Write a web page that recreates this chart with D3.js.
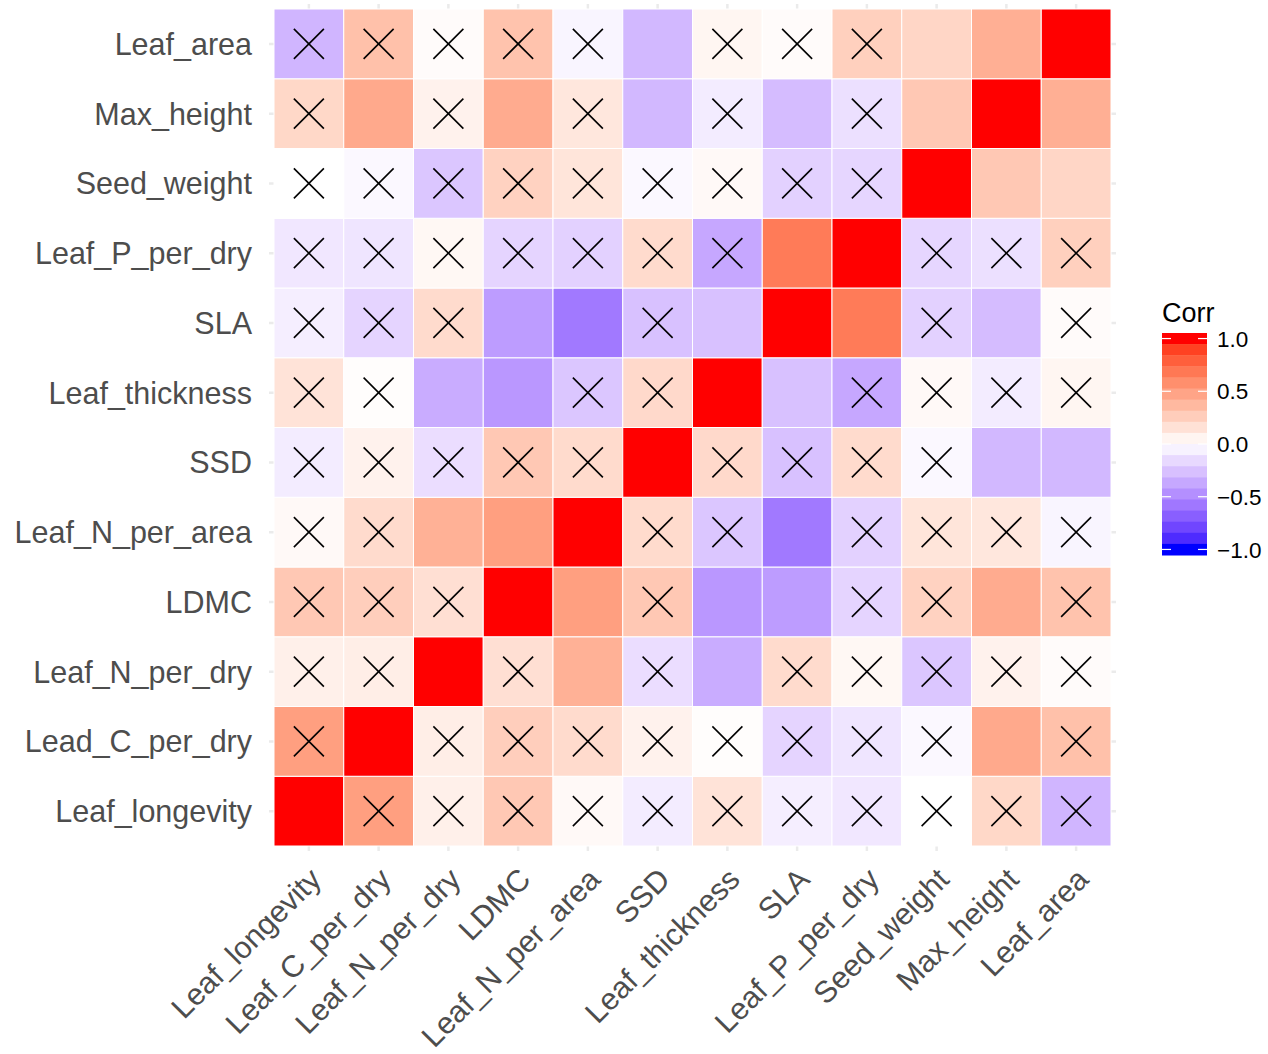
<!DOCTYPE html>
<html>
<head>
<meta charset="utf-8">
<script src="https://cdn.jsdelivr.net/npm/d3@7"></script>
<style>
  html, body { margin: 0; padding: 0; background: #fff; }
  svg { display: block; font-family: "Liberation Sans", Arial, Helvetica, sans-serif; }
</style>
</head>
<body>
<svg id="chart" width="1268" height="1054"></svg>
<script>
// variables in plotting order (x left->right, y bottom->top)
const colLabels = ['Leaf_longevity', 'Leaf_C_per_dry', 'Leaf_N_per_dry', 'LDMC', 'Leaf_N_per_area', 'SSD',
  'Leaf_thickness', 'SLA', 'Leaf_P_per_dry', 'Seed_weight', 'Max_height', 'Leaf_area'];
const rowLabels = ['Leaf_longevity', 'Lead_C_per_dry', 'Leaf_N_per_dry', 'LDMC', 'Leaf_N_per_area', 'SSD',
  'Leaf_thickness', 'SLA', 'Leaf_P_per_dry', 'Seed_weight', 'Max_height', 'Leaf_area'];

// correlation matrix, one row per variable (same order as colLabels)
const corrRows = [
  [1, 0.50, 0.08, 0.29, 0.03, -0.08, 0.15, -0.07, -0.10, 0.00, 0.21, -0.31],
  [0.50, 1, 0.09, 0.26, 0.19, 0.07, 0.01, -0.18, -0.11, -0.03, 0.45, 0.33],
  [0.08, 0.09, 1, 0.17, 0.41, -0.14, -0.35, 0.19, 0.04, -0.24, 0.07, 0.02],
  [0.29, 0.26, 0.17, 1, 0.50, 0.29, -0.44, -0.42, -0.18, 0.24, 0.44, 0.32],
  [0.03, 0.19, 0.41, 0.50, 1, 0.19, -0.24, -0.57, -0.19, 0.14, 0.13, -0.04],
  [-0.08, 0.07, -0.14, 0.29, 0.19, 1, 0.20, -0.26, 0.19, -0.03, -0.30, -0.30],
  [0.15, 0.01, -0.35, -0.44, -0.24, 0.20, 1, -0.26, -0.37, 0.03, -0.08, 0.05],
  [-0.07, -0.18, 0.19, -0.42, -0.57, -0.26, -0.26, 1, 0.67, -0.19, -0.28, 0.02],
  [-0.10, -0.11, 0.04, -0.18, -0.19, 0.19, -0.37, 0.67, 1, -0.17, -0.13, 0.25],
  [0.00, -0.03, -0.24, 0.24, 0.14, -0.03, 0.03, -0.19, -0.17, 1, 0.29, 0.22],
  [0.21, 0.45, 0.07, 0.44, 0.13, -0.30, -0.08, -0.28, -0.13, 0.29, 1, 0.42],
  [-0.31, 0.33, 0.02, 0.32, -0.04, -0.30, 0.05, 0.02, 0.25, 0.22, 0.42, 1]
];

// 1 = not significant (crossed out)
const insigRows = [
  [0, 1, 1, 1, 1, 1, 1, 1, 1, 1, 1, 1],
  [1, 0, 1, 1, 1, 1, 1, 1, 1, 1, 0, 1],
  [1, 1, 0, 1, 0, 1, 0, 1, 1, 1, 1, 1],
  [1, 1, 1, 0, 0, 1, 0, 0, 1, 1, 0, 1],
  [1, 1, 0, 0, 0, 1, 1, 0, 1, 1, 1, 1],
  [1, 1, 1, 1, 1, 0, 1, 1, 1, 1, 0, 0],
  [1, 1, 0, 0, 1, 1, 0, 0, 1, 1, 1, 1],
  [1, 1, 1, 0, 0, 1, 0, 0, 0, 1, 0, 1],
  [1, 1, 1, 1, 1, 1, 1, 0, 0, 1, 1, 1],
  [1, 1, 1, 1, 1, 1, 1, 1, 1, 0, 0, 0],
  [1, 0, 1, 0, 1, 0, 1, 0, 1, 0, 0, 0],
  [1, 1, 1, 1, 1, 0, 1, 1, 1, 0, 0, 0]
];

const legendTicks = [1, 0.5, 0, -0.5, -1];

const svg = d3.select('#chart');
const idx = d3.range(colLabels.length);

const x = d3.scaleBand().domain(idx).range([274, 1111]);
const y = d3.scaleBand().domain(idx.slice().reverse()).range([9, 846]);

const color = d3.scaleLinear()
  .domain([-1, 0, 1])
  .range(['blue', 'white', 'red'])
  .interpolate(d3.interpolateLab);

// grid lines (only visible in the margin round the tiles)
const grid = svg.append('g').attr('stroke', '#ebebeb').attr('stroke-width', 2.5);
grid.selectAll('line.v').data(idx).enter().append('line')
  .attr('x1', (d) => x(d) + x.bandwidth() / 2).attr('x2', (d) => x(d) + x.bandwidth() / 2)
  .attr('y1', 4).attr('y2', 851);
grid.selectAll('line.h').data(idx).enter().append('line')
  .attr('y1', (d) => y(d) + y.bandwidth() / 2).attr('y2', (d) => y(d) + y.bandwidth() / 2)
  .attr('x1', 269).attr('x2', 1116);

const cells = [];
corrRows.forEach((row, r) => row.forEach((v, c) => cells.push({ r, c, v, x: insigRows[r][c] })));

// tiles
svg.append('g').selectAll('rect').data(cells).enter().append('rect')
  .attr('x', (d) => x(d.c))
  .attr('y', (d) => y(d.r))
  .attr('width', x.bandwidth())
  .attr('height', y.bandwidth())
  .attr('fill', (d) => color(d.v))
  .attr('stroke', 'white')
  .attr('stroke-width', 1);

// crosses for insignificant cells
const half = 15;
const crosses = svg.append('g').attr('stroke', '#000').attr('stroke-width', 1.6)
  .selectAll('g').data(cells.filter((d) => d.x)).enter().append('g')
  .attr('transform', (d) => `translate(${x(d.c) + x.bandwidth() / 2},${y(d.r) + y.bandwidth() / 2})`);
crosses.append('line').attr('x1', -half).attr('y1', -half).attr('x2', half).attr('y2', half);
crosses.append('line').attr('x1', -half).attr('y1', half).attr('x2', half).attr('y2', -half);

// y axis
const yAxis = svg.append('g')
  .attr('transform', 'translate(274,0)')
  .call(d3.axisLeft(y).tickSize(0).tickPadding(22).tickFormat((d) => rowLabels[d]));
yAxis.select('.domain').remove();
yAxis.selectAll('text')
  .attr('font-size', 30.5)
  .attr('dy', '0.36em')
  .attr('fill', '#4d4d4d')
  .attr('font-family', '"Liberation Sans", Arial, sans-serif');

// x axis, labels rotated 45 degrees
const xAxis = svg.append('g')
  .attr('transform', 'translate(0,846)')
  .call(d3.axisBottom(x).tickSize(0).tickFormat((d) => colLabels[d]));
xAxis.select('.domain').remove();
xAxis.selectAll('text')
  .attr('font-size', 30.5)
  .attr('fill', '#4d4d4d')
  .attr('font-family', '"Liberation Sans", Arial, sans-serif')
  .attr('x', 0)
  .attr('y', 0)
  .attr('dy', '0.75em')
  .attr('text-anchor', 'end')
  .attr('transform', 'translate(-2,19) rotate(-45)');

// legend
const nbin = 20;
const barX = 1162, barW = 45, barTop = 333, barH = 222;
const binH = barH / nbin;
const ly = d3.scaleLinear().domain([1, -1]).range([barTop + binH / 2, barTop + barH - binH / 2]);
const bins = d3.range(nbin).map((i) => 1 - (2 * i) / (nbin - 1));

const legend = svg.append('g');
legend.append('text')
  .attr('x', barX)
  .attr('y', 322)
  .attr('font-size', 27)
  .attr('fill', '#000')
  .text('Corr');

legend.selectAll('rect').data(bins).enter().append('rect')
  .attr('x', barX)
  .attr('y', (d, i) => barTop + i * binH)
  .attr('width', barW)
  .attr('height', binH + 0.5)
  .attr('fill', (d) => color(d));

legend.selectAll('line.tl').data(legendTicks).enter().append('line')
  .attr('x1', barX).attr('x2', barX + 9)
  .attr('y1', (d) => ly(d)).attr('y2', (d) => ly(d))
  .attr('stroke', 'white').attr('stroke-width', 1.2);
legend.selectAll('line.tr').data(legendTicks).enter().append('line')
  .attr('x1', barX + barW - 9).attr('x2', barX + barW)
  .attr('y1', (d) => ly(d)).attr('y2', (d) => ly(d))
  .attr('stroke', 'white').attr('stroke-width', 1.2);

legend.selectAll('text.lab').data(legendTicks).enter().append('text')
  .attr('class', 'lab')
  .attr('x', barX + barW + 10)
  .attr('y', (d) => ly(d))
  .attr('dy', '0.36em')
  .attr('font-size', 22.5)
  .attr('fill', '#000')
  .text((d) => d3.format('.1f')(d));
</script>
</body>
</html>
